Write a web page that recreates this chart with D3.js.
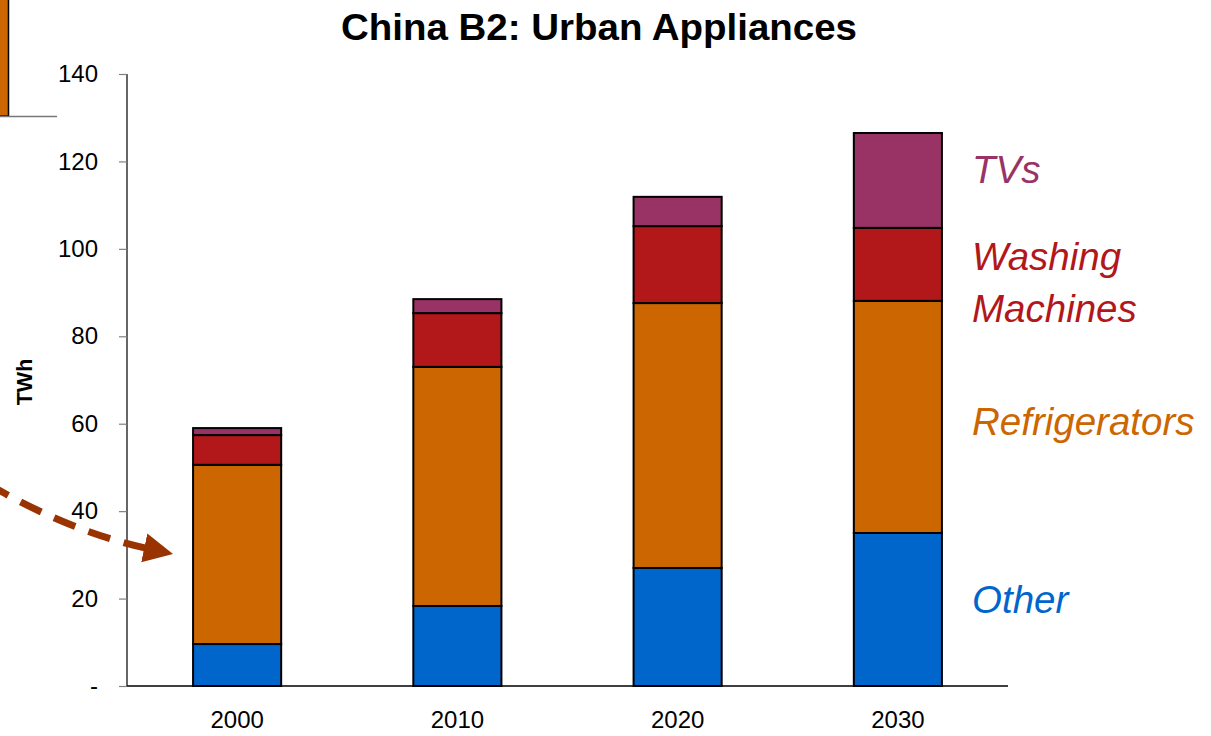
<!DOCTYPE html>
<html>
<head>
<meta charset="utf-8">
<script src="https://cdn.jsdelivr.net/npm/d3@7"></script>
<style>
  html, body { margin: 0; padding: 0; background: #fff; }
  svg { display: block; font-family: "Liberation Sans", Arial, sans-serif; }
</style>
</head>
<body>
<svg id="chart" width="1211" height="736"></svg>
<script>
// Urban appliance electricity use, TWh, stacked by end use
const years = ["2000", "2010", "2020", "2030"];
const other = [9.6, 18.3, 27.0, 35.0];
const refrigerators = [41.0, 54.7, 60.6, 53.1];
const washingMachines = [6.8, 12.3, 17.6, 16.7];
const tvs = [1.6, 3.2, 6.7, 21.7];
const yTicks = [0, 20, 40, 60, 80, 100, 120, 140];

const seriesKeys = ["Other", "Refrigerators", "Washing Machines", "TVs"];
const seriesColors = ["#0066CC", "#CC6600", "#B2171A", "#993366"];
const seriesLabelLines = [["Other"], ["Refrigerators"], ["Washing", "Machines"], ["TVs"]];

const rows = years.map((y, i) => ({
  year: y,
  "Other": other[i],
  "Refrigerators": refrigerators[i],
  "Washing Machines": washingMachines[i],
  "TVs": tvs[i]
}));

const svg = d3.select("#chart");
const plot = { left: 127, right: 1008, top: 74, bottom: 686 };

const x = d3.scaleBand()
  .domain(years)
  .range([plot.left, plot.right])
  .paddingInner(0.6)
  .paddingOuter(0.3);

const y = d3.scaleLinear()
  .domain([0, 140])
  .range([plot.bottom, plot.top]);

const stacked = d3.stack().keys(seriesKeys)(rows);

// Leftover panel edge at the top-left corner
svg.append("rect")
  .attr("x", -2).attr("y", -2)
  .attr("width", 10.5).attr("height", 118)
  .attr("fill", "#CC6600")
  .attr("stroke", "#000").attr("stroke-width", 1.5);
svg.append("line")
  .attr("x1", 0).attr("x2", 57)
  .attr("y1", 116.5).attr("y2", 116.5)
  .attr("stroke", "#777").attr("stroke-width", 1.5);

// Title
svg.append("text")
  .attr("x", 599).attr("y", 40)
  .attr("text-anchor", "middle")
  .attr("font-size", 37)
  .attr("font-weight", "bold")
  .attr("fill", "#000")
  .attr("textLength", 516)
  .attr("lengthAdjust", "spacingAndGlyphs")
  .text("China B2: Urban Appliances");

// Y axis
const yAxis = d3.axisLeft(y)
  .tickValues(yTicks)
  .tickSize(8)
  .tickPadding(21)
  .tickFormat(d => d === 0 ? "-" : d3.format("d")(d));
const gy = svg.append("g")
  .attr("transform", `translate(${plot.left},0)`)
  .call(yAxis);
gy.select(".domain").attr("stroke", "#000").attr("stroke-width", 1.2)
  .attr("d", `M0,${plot.top}V${plot.bottom}`);
gy.selectAll(".tick line").attr("stroke", "#808080").attr("stroke-width", 1.2);
gy.selectAll(".tick text")
  .attr("font-size", 24)
  .attr("font-family", "\"Liberation Sans\", Arial, sans-serif")
  .attr("fill", "#000");

// Y axis title
svg.append("text")
  .attr("transform", "translate(32,382) rotate(-90)")
  .attr("text-anchor", "middle")
  .attr("font-size", 21.5)
  .attr("font-weight", "bold")
  .text("TWh");

// Stacked bars
svg.append("g")
  .selectAll("g")
  .data(stacked)
  .join("g")
  .attr("fill", (d, i) => seriesColors[i])
  .selectAll("rect")
  .data(d => d)
  .join("rect")
  .attr("x", d => x(d.data.year))
  .attr("width", x.bandwidth())
  .attr("y", d => y(d[1]))
  .attr("height", d => y(d[0]) - y(d[1]))
  .attr("stroke", "#000")
  .attr("stroke-width", 2);

// X axis
const xAxis = d3.axisBottom(x).tickSize(0).tickPadding(25);
const gx = svg.append("g")
  .attr("transform", `translate(0,${plot.bottom})`)
  .call(xAxis);
gx.select(".domain").attr("stroke", "#000").attr("stroke-width", 1.5)
  .attr("d", `M${plot.left},0H${plot.right}`);
gx.selectAll(".tick text")
  .attr("font-size", 24)
  .attr("font-family", "\"Liberation Sans\", Arial, sans-serif")
  .attr("fill", "#000");

// Series labels to the right of the last bar
const labelBaselines = [613, 435, 270, 183];
seriesLabelLines.forEach((lines, i) => {
  const t = svg.append("text")
    .attr("x", 972)
    .attr("y", labelBaselines[i])
    .attr("font-size", 38.5)
    .attr("font-style", "italic")
    .attr("fill", seriesColors[i]);
  lines.forEach((ln, j) => {
    t.append("tspan")
      .attr("x", 972)
      .attr("dy", j === 0 ? 0 : 52)
      .text(ln);
  });
});

// Dashed pointer arrow coming in from the left
const defs = svg.append("defs");
defs.append("marker")
  .attr("id", "arrowhead")
  .attr("viewBox", "0 0 10 10")
  .attr("refX", 2).attr("refY", 5)
  .attr("markerWidth", 4.2).attr("markerHeight", 4.2)
  .attr("markerUnits", "strokeWidth")
  .attr("orient", "auto")
  .append("path")
  .attr("d", "M0,0 L10,5 L0,10 Z")
  .attr("fill", "#993300");

svg.append("path")
  .attr("d", "M-12,484 Q70,532 150,549")
  .attr("fill", "none")
  .attr("stroke", "#993300")
  .attr("stroke-width", 7)
  .attr("stroke-dasharray", "23,14")
  .attr("marker-end", "url(#arrowhead)");
</script>
</body>
</html>
